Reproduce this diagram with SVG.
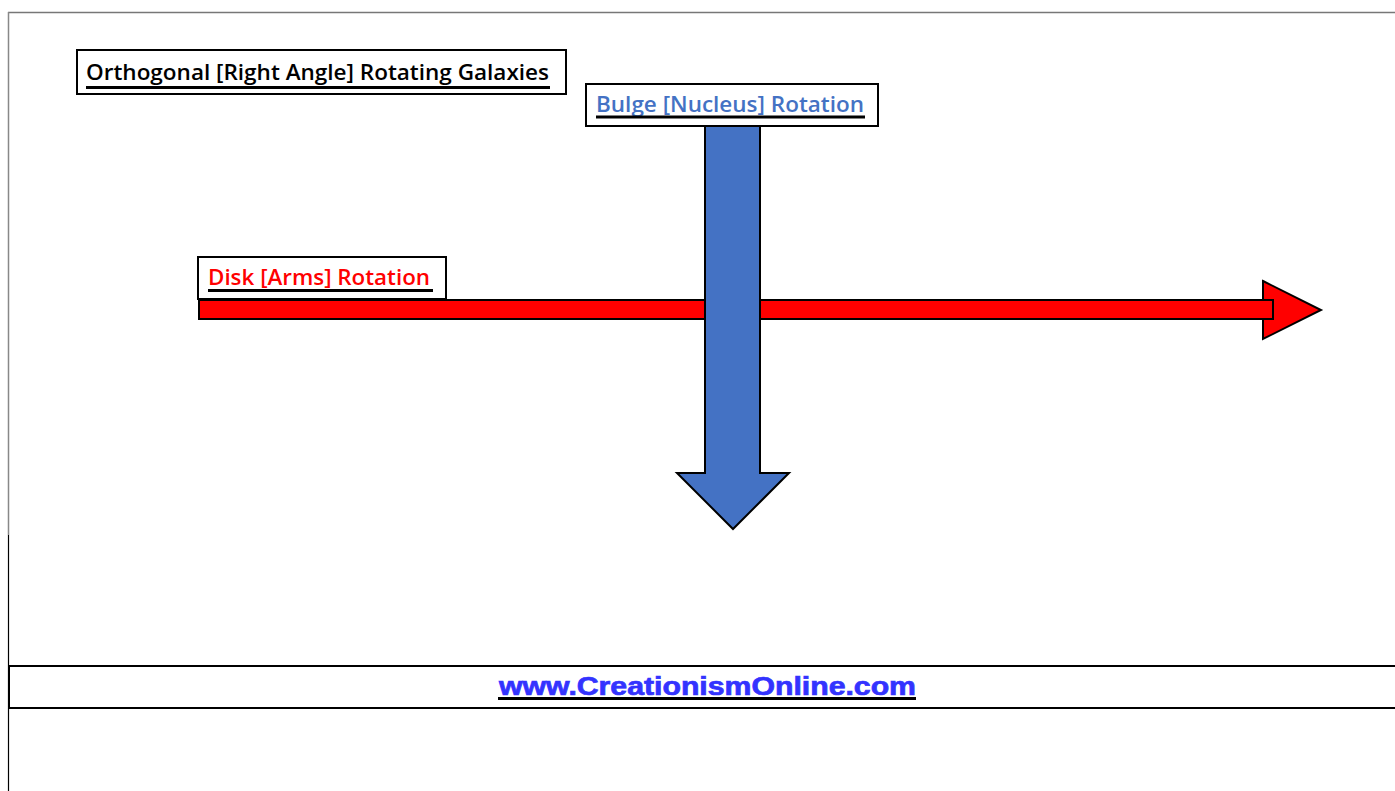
<svg xmlns="http://www.w3.org/2000/svg" width="1395" height="791" viewBox="0 0 1395 791">
<style>
.box{fill:#fff;stroke:#000;stroke-width:2}
.lbl{font-family:"Open Sans","Liberation Sans",sans-serif;font-weight:600;font-size:22px}
.ul{stroke:#000;stroke-width:3}
.arr{stroke:#000;stroke-width:2;stroke-linejoin:miter}
</style>
<rect width="1395" height="791" fill="#fff"/>
<g id="frame">
<line x1="8" y1="12.5" x2="1395" y2="12.5" stroke="#777" stroke-width="1.5"/>
<line x1="8.5" y1="12" x2="8.5" y2="535" stroke="#888" stroke-width="1.5"/>
<line x1="8.5" y1="535" x2="8.5" y2="791" stroke="#000" stroke-width="1.2"/>
</g>
<g id="title">
<rect class="box" x="77" y="50" width="489" height="44"/>
<text class="lbl" x="86" y="80" textLength="463" lengthAdjust="spacingAndGlyphs" fill="#000">Orthogonal [Right Angle] Rotating Galaxies</text>
<line class="ul" x1="86" y1="87.5" x2="550" y2="87.5"/>
</g>
<g id="connectors">
<g id="disk-arrow">
<polygon class="arr" points="1263,281 1321,310 1263,339" fill="#ff0000"/>
<rect class="arr" x="199" y="300" width="1074" height="19" fill="#ff0000"/>
</g>
<g id="bulge-arrow">
<polygon class="arr" points="705,126 760,126 760,473 789,473 733,529 677,473 705,473" fill="#4472c4"/>
</g>
</g>
<g id="bulge">
<rect class="box" x="586" y="84" width="292" height="42"/>
<text class="lbl" x="596" y="112" textLength="268" lengthAdjust="spacingAndGlyphs" fill="#4472c4">Bulge [Nucleus] Rotation</text>
<line class="ul" x1="596" y1="117" x2="865" y2="117"/>
</g>
<g id="disk">
<rect class="box" x="198" y="257" width="248" height="42"/>
<text class="lbl" x="208" y="285" textLength="222" lengthAdjust="spacingAndGlyphs" fill="#ff0000">Disk [Arms] Rotation</text>
<line class="ul" x1="208" y1="290.5" x2="433" y2="290.5"/>
</g>
<g id="footer">
<line x1="8" y1="666" x2="1395" y2="666" stroke="#000" stroke-width="2"/>
<line x1="8" y1="708" x2="1395" y2="708" stroke="#000" stroke-width="2"/>
<line x1="9" y1="666" x2="9" y2="708" stroke="#000" stroke-width="2"/>
<text x="499" y="695" textLength="417" lengthAdjust="spacingAndGlyphs" font-family="'Liberation Sans',Arial,sans-serif" font-weight="bold" font-size="25" fill="#3333ff" stroke="#3333ff" stroke-width="0.7">www.CreationismOnline.com</text>
<line x1="498" y1="698.5" x2="916" y2="698.5" stroke="#000" stroke-width="3"/>
</g>
</svg>
